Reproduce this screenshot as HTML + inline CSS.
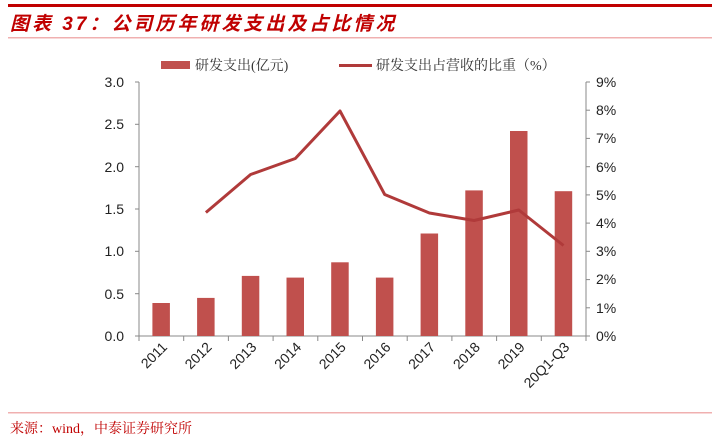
<!DOCTYPE html>
<html><head><meta charset="utf-8"><style>
body{margin:0;background:#fff;}
svg text{font-family:"Liberation Sans","Noto Sans CJK SC",sans-serif;}
svg text.s{font-family:"Liberation Serif","Noto Serif CJK SC",serif;}
</style></head><body>
<svg width="719" height="440" xmlns="http://www.w3.org/2000/svg">
<rect x="0" y="0" width="719" height="440" fill="#fff"/>
<rect x="8" y="4" width="704" height="3" fill="#c00000"/>
<text x="10" y="30" font-size="19" font-weight="bold" font-style="italic" fill="#c00000" letter-spacing="3">图表 37：公司历年研发支出及占比情况</text>
<rect x="8" y="37" width="704" height="1.5" fill="#f0b0b0"/>
<!-- legend -->
<rect x="161" y="61" width="29" height="8" fill="#c0504d"/>
<text class="s" x="195" y="70" font-size="14" fill="#333">研发支出(亿元)</text>
<rect x="339" y="64" width="33" height="3" fill="#b03a3a"/>
<text class="s" x="376" y="70" font-size="14" fill="#333">研发支出占营收的比重（%）</text>
<!-- axes -->
<g stroke="#888" stroke-width="1" fill="none">
<line x1="139" y1="82" x2="139" y2="336"/>
<line x1="586" y1="82" x2="586" y2="336"/>
<line x1="139" y1="336" x2="586" y2="336"/>
</g>
<g stroke="#888" stroke-width="1">
<line x1="135" y1="82" x2="139" y2="82"/><line x1="135" y1="124.3" x2="139" y2="124.3"/><line x1="135" y1="166.7" x2="139" y2="166.7"/><line x1="135" y1="209" x2="139" y2="209"/><line x1="135" y1="251.3" x2="139" y2="251.3"/><line x1="135" y1="293.7" x2="139" y2="293.7"/><line x1="135" y1="336" x2="139" y2="336"/>
<line x1="586" y1="82" x2="590" y2="82"/><line x1="586" y1="110.2" x2="590" y2="110.2"/><line x1="586" y1="138.4" x2="590" y2="138.4"/><line x1="586" y1="166.7" x2="590" y2="166.7"/><line x1="586" y1="194.9" x2="590" y2="194.9"/><line x1="586" y1="223.1" x2="590" y2="223.1"/><line x1="586" y1="251.3" x2="590" y2="251.3"/><line x1="586" y1="279.6" x2="590" y2="279.6"/><line x1="586" y1="307.8" x2="590" y2="307.8"/><line x1="586" y1="336" x2="590" y2="336"/>
<line x1="139" y1="336" x2="139" y2="341"/><line x1="183.7" y1="336" x2="183.7" y2="341"/><line x1="228.4" y1="336" x2="228.4" y2="341"/><line x1="273.1" y1="336" x2="273.1" y2="341"/><line x1="317.8" y1="336" x2="317.8" y2="341"/><line x1="362.5" y1="336" x2="362.5" y2="341"/><line x1="407.2" y1="336" x2="407.2" y2="341"/><line x1="451.9" y1="336" x2="451.9" y2="341"/><line x1="496.6" y1="336" x2="496.6" y2="341"/><line x1="541.3" y1="336" x2="541.3" y2="341"/><line x1="586" y1="336" x2="586" y2="341"/>
</g>
<g font-size="14" fill="#222" text-anchor="end">
<text x="124" y="87">3.0</text><text x="124" y="129">2.5</text><text x="124" y="172">2.0</text><text x="124" y="214">1.5</text><text x="124" y="256">1.0</text><text x="124" y="299">0.5</text><text x="124" y="341">0.0</text>
</g>
<g font-size="14" fill="#222">
<text x="596" y="87">9%</text><text x="596" y="115">8%</text><text x="596" y="143">7%</text><text x="596" y="172">6%</text><text x="596" y="200">5%</text><text x="596" y="228">4%</text><text x="596" y="256">3%</text><text x="596" y="284">2%</text><text x="596" y="313">1%</text><text x="596" y="341">0%</text>
</g>
<!-- bars -->
<g fill="#c0504d">
<rect x="152.4" y="303" width="17.5" height="33"/>
<rect x="197.1" y="297.9" width="17.5" height="38.1"/>
<rect x="241.8" y="275.9" width="17.5" height="60.1"/>
<rect x="286.5" y="277.6" width="17.5" height="58.4"/>
<rect x="331.2" y="262.3" width="17.5" height="73.7"/>
<rect x="375.9" y="277.6" width="17.5" height="58.4"/>
<rect x="420.6" y="233.5" width="17.5" height="102.5"/>
<rect x="465.3" y="190.4" width="17.5" height="145.6"/>
<rect x="510" y="131" width="17.5" height="205"/>
<rect x="554.7" y="191.2" width="17.5" height="144.8"/>
</g>
<polyline fill="none" stroke="#b03a3a" stroke-width="3" stroke-linejoin="round" points="205.9,212.5 250.6,174.5 295.3,158.5 340,111 384.7,194.5 429.4,213 474.1,220.5 518.8,210 563.5,245.5"/>
<g font-size="14" fill="#222" text-anchor="end">
<text transform="translate(168,348) rotate(-45)">2011</text>
<text transform="translate(212.7,348) rotate(-45)">2012</text>
<text transform="translate(257.4,348) rotate(-45)">2013</text>
<text transform="translate(302.1,348) rotate(-45)">2014</text>
<text transform="translate(346.8,348) rotate(-45)">2015</text>
<text transform="translate(391.5,348) rotate(-45)">2016</text>
<text transform="translate(436.2,348) rotate(-45)">2017</text>
<text transform="translate(480.9,348) rotate(-45)">2018</text>
<text transform="translate(525.6,348) rotate(-45)">2019</text>
<text transform="translate(570.3,348) rotate(-45)">20Q1-Q3</text>
</g>
<rect x="8" y="412" width="704" height="1.5" fill="#f0b0b0"/>
<text class="s" x="10" y="433" font-size="14" fill="#c00000">来源：wind，中泰证券研究所</text>
</svg>
</body></html>
